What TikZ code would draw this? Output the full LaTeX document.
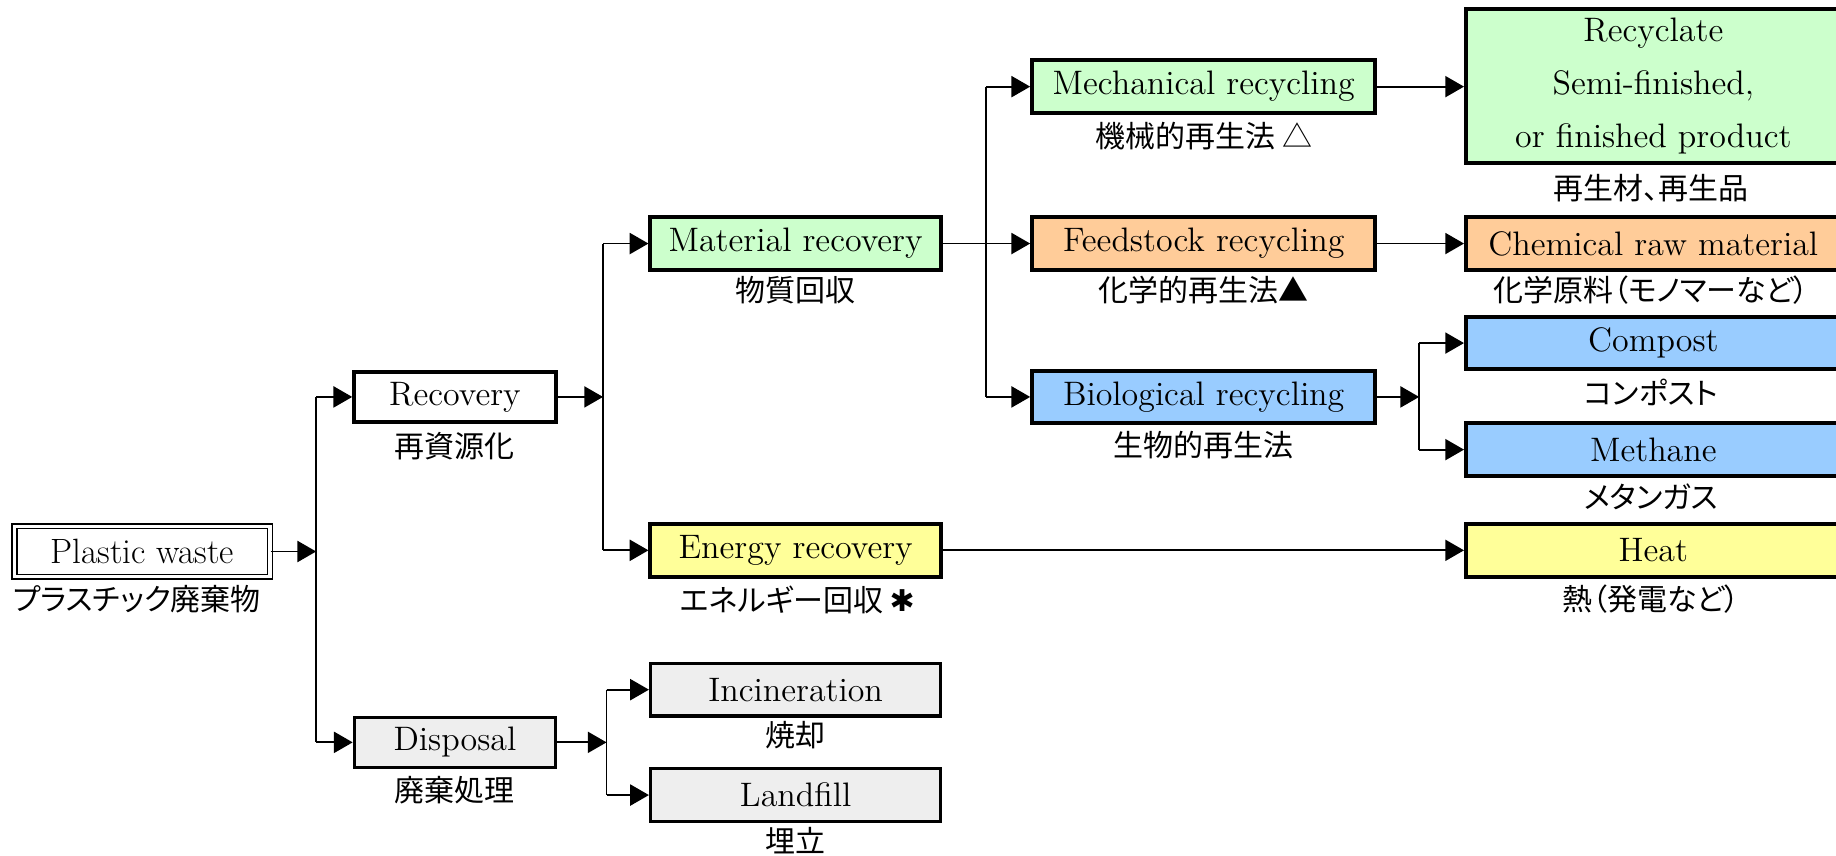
\documentclass[tikz,border=0pt]{standalone}
\usepackage{fontspec}
\newfontfamily\jp[RawFeature=+palt]{Noto Sans CJK JP}
\newfontfamily\dejavu{DejaVu Sans}
\usetikzlibrary{arrows.meta}
\definecolor{cgreen}{HTML}{CCFFCC}
\definecolor{corange}{HTML}{FFCC99}
\definecolor{cblue}{HTML}{99CCFF}
\definecolor{cyellow}{HTML}{FFFF99}
\definecolor{cgray}{HTML}{EEEEEE}
\begin{document}
\begin{tikzpicture}[x=0.5pt,y=-0.5pt,
  box/.style={draw, line width=1.7pt, inner sep=0pt, minimum height=22.5pt,
    font=\fontsize{14.5}{16}\selectfont},
  lvl1/.style={box, minimum width=86pt, minimum height=21.5pt},
  lvl2/.style={box, minimum width=124pt},
  lvl3/.style={box, minimum width=146.5pt},
  lvl4/.style={box, minimum width=160pt},
  graybox/.style={fill=cgray, line width=1.3pt},
  jlab/.style={font=\jp\fontsize{12.8}{14}\selectfont, inner sep=0pt},
  ln/.style={line width=0.8pt},
  arr/.style={line width=0.8pt, -{Triangle[length=8pt,width=9pt]}}]
\path[use as bounding box] (0,0) rectangle (1568,731);

% boxes
\node[draw, double, line width=0.6pt, double distance=1.5pt, inner sep=0pt,
  minimum width=109pt, minimum height=21.5pt, font=\fontsize{15}{16}\selectfont]
  (PW) at (121.5,471) {Plastic waste};
\node[lvl1, fill=white] (Rec) at (388.5,339) {Recovery};
\node[lvl1, graybox] (Dis) at (388.5,634) {Disposal};
\node[lvl2, fill=cgreen] (Mat) at (679.5,208) {Material recovery};
\node[lvl2, fill=cyellow] (Ene) at (679.5,470) {Energy recovery};
\node[lvl2, graybox] (Inc) at (679.5,589) {Incineration};
\node[lvl2, graybox] (Lan) at (679.5,679) {Landfill};
\node[lvl3, fill=cgreen] (Mec) at (1028,74) {Mechanical recycling};
\node[lvl3, fill=corange] (Fee) at (1028,208) {Feedstock recycling};
\node[lvl3, fill=cblue] (Bio) at (1028,339) {Biological recycling};
\node[lvl4, fill=cgreen, minimum height=66pt, align=center,
  font=\fontsize{14.5}{22.5}\selectfont] (Rcy) at (1412,73.5)
  {Recyclate\\Semi-finished,\\or finished product};
\node[lvl4, fill=corange] (Che) at (1412,208) {Chemical raw material};
\node[lvl4, fill=cblue] (Com) at (1412,293) {Compost};
\node[lvl4, fill=cblue] (Met) at (1412,384) {Methane};
\node[lvl4, fill=cyellow] (Hea) at (1412,470) {Heat};

% Japanese labels
\node[jlab] (lPW) at (117,512) {プラスチック廃棄物};
\node[jlab] (lRec) at (388.5,381) {再資源化};
\node[jlab] (lDis) at (388.5,675) {廃棄処理};
\node[jlab] (lMat) at (679.5,248) {物質回収};
\node[jlab] (lEne) at (681,512) {エネルギー回収 {\dejavu\bfseries ✱}};
\node[jlab] (lInc) at (679.5,628) {焼却};
\node[jlab] (lLan) at (679.5,718) {埋立};
\node[jlab] (lMec) at (1028,116) {機械的再生法 △};
\node[jlab] (lFee) at (1028,248) {化学的再生法▲};
\node[jlab] (lBio) at (1028,380) {生物的再生法};
\node[jlab] (lRcy) at (1410,161) {再生材、再生品};
\node[jlab] (lChe) at (1410,248) {化学原料（モノマーなど）};
\node[jlab] (lCom) at (1410,335) {コンポスト};
\node[jlab] (lMet) at (1410,424) {メタンガス};
\node[jlab] (lHea) at (1410,512) {熱（発電など）};

% junction coordinates
\coordinate (ja) at (270,0);
\coordinate (jb) at (515,0);
\coordinate (jc) at (518,0);
\coordinate (jd) at (842,0);
\coordinate (je) at (1212,0);

% Plastic waste -> Recovery / Disposal
\draw[arr] (PW.east) -- (PW.east -| ja);
\draw[ln] (ja |- Rec.west) -- (ja |- Dis.west);
\draw[arr] (ja |- Rec.west) -- (Rec.west);
\draw[arr] (ja |- Dis.west) -- (Dis.west);

% Recovery -> Material / Energy
\draw[arr] (Rec.east) -- (Rec.east -| jb);
\draw[ln] (jb |- Mat.west) -- (jb |- Ene.west);
\draw[arr] (jb |- Mat.west) -- (Mat.west);
\draw[arr] (jb |- Ene.west) -- (Ene.west);

% Disposal -> Incineration / Landfill
\draw[arr] (Dis.east) -- (Dis.east -| jc);
\draw[ln] (jc |- Inc.west) -- (jc |- Lan.west);
\draw[arr] (jc |- Inc.west) -- (Inc.west);
\draw[arr] (jc |- Lan.west) -- (Lan.west);

% Material recovery -> three recycling routes
\draw[arr] (Mat.east) -- (Fee.west);
\draw[ln] (jd |- Mec.west) -- (jd |- Bio.west);
\draw[arr] (jd |- Mec.west) -- (Mec.west);
\draw[arr] (jd |- Bio.west) -- (Bio.west);

% products
\draw[arr] (Mec.east) -- (Mec.east -| Rcy.west);
\draw[arr] (Fee.east) -- (Che.west);
\draw[arr] (Bio.east) -- (Bio.east -| je);
\draw[ln] (je |- Com.west) -- (je |- Met.west);
\draw[arr] (je |- Com.west) -- (Com.west);
\draw[arr] (je |- Met.west) -- (Met.west);
\draw[arr] (Ene.east) -- (Hea.west);
\end{tikzpicture}
\end{document}
